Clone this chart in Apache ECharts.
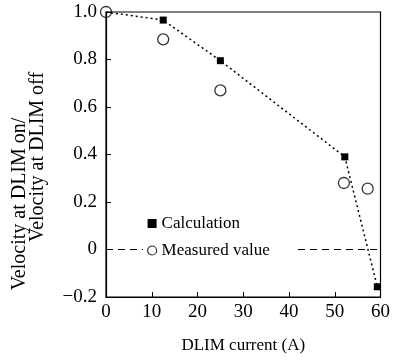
<!DOCTYPE html>
<html><head><meta charset="utf-8">
<script src="https://cdn.jsdelivr.net/npm/echarts@6/dist/echarts.min.js"></script>
<style>html,body{margin:0;padding:0;background:#fff}#c{width:393px;height:360px}</style>
</head><body><div id="c"></div>
<script>
var calcX = [0, 12.5, 25, 52.2, 59.3];
var calcY = [1.0, 0.966, 0.795, 0.39, -0.157];
var measX = [0, 12.5, 25, 52, 57.2];
var measY = [1.0, 0.885, 0.67, 0.28, 0.256];
var xTicks = [0, 10, 20, 30, 40, 50, 60];
var yTicks = [-0.2, 0, 0.2, 0.4, 0.6, 0.8, 1.0];
var yTickLabels = ['\u22120.2', '0', '0.2', '0.4', '0.6', '0.8', '1.0'];
var seriesNames = ['Calculation', 'Measured value'];
var xTitle = 'DLIM current (A)';
var yTitleLines = ['Velocity at DLIM on/', 'Velocity at DLIM off'];

var font = 'Liberation Serif';
var calcData = calcX.map(function (x, i) {
  var d = { value: [x, calcY[i]] };
  if (i === 0) d.symbolSize = 0;
  return d;
});
var measData = measX.map(function (x, i) { return [x, measY[i]]; });

var chart = echarts.init(document.getElementById('c'), null, { renderer: 'canvas' });
chart.setOption({
  backgroundColor: '#fff',
  animation: false,
  grid: { left: 106, right: 10, top: 12, bottom: 63, show: true, borderColor: '#000', borderWidth: 1.2, backgroundColor: 'transparent' },
  graphic: [
    { type: 'text', x: 20, y: 204, rotation: Math.PI / 2,
      style: { text: yTitleLines[0], font: '20px "Liberation Serif"', fill: '#000', textAlign: 'center', textVerticalAlign: 'middle' } },
    { type: 'text', x: 38, y: 157, rotation: Math.PI / 2,
      style: { text: yTitleLines[1], font: '20px "Liberation Serif"', fill: '#000', textAlign: 'center', textVerticalAlign: 'middle' } }
  ],
  legend: {
    orient: 'vertical', left: 143, top: 212, itemWidth: 9, itemHeight: 9, itemGap: 10, z: 10,
    backgroundColor: '#fff', padding: [3, 27, 3, 4],
    textStyle: { fontFamily: font, fontSize: 17, color: '#000' },
    data: [
      { name: seriesNames[0], icon: 'rect', itemStyle: { color: '#000' } },
      { name: seriesNames[1], icon: 'circle', itemStyle: { color: '#fff', borderColor: '#000', borderWidth: 1.2 } }
    ]
  },
  xAxis: {
    type: 'value', min: xTicks[0], max: xTicks[xTicks.length - 1], interval: 10,
    name: xTitle, nameLocation: 'middle', nameGap: 40,
    nameTextStyle: { fontFamily: font, fontSize: 17, color: '#000' },
    axisLine: { onZero: false, lineStyle: { color: '#000', width: 1.2 } },
    axisTick: { inside: true, length: 5, lineStyle: { color: '#000' } },
    axisLabel: { fontFamily: font, fontSize: 19, color: '#000', margin: 6 },
    splitLine: { show: false }
  },
  yAxis: {
    type: 'value', min: yTicks[0], max: yTicks[yTicks.length - 1], interval: 0.2,
    axisLine: { onZero: false, lineStyle: { color: '#000', width: 1.2 } },
    axisTick: { inside: true, length: 5, lineStyle: { color: '#000' } },
    axisLabel: {
      fontFamily: font, fontSize: 19, color: '#000', margin: 9,
      formatter: function (v) {
        for (var i = 0; i < yTicks.length; i++) if (Math.abs(v - yTicks[i]) < 1e-6) return yTickLabels[i];
        return '';
      }
    },
    splitLine: { show: false }
  },
  series: [
    {
      name: seriesNames[0], type: 'line', data: calcData, symbol: 'rect', symbolSize: 7,
      itemStyle: { color: '#000' },
      lineStyle: { color: '#000', width: 1.5, type: [2, 3] },
      z: 3,
      markLine: {
        silent: true, symbol: 'none', label: { show: false },
        lineStyle: { color: '#000', width: 1.2, type: [7, 5] },
        data: [{ yAxis: 0 }]
      }
    },
    {
      name: seriesNames[1], type: 'scatter', data: measData, symbol: 'circle', symbolSize: 11,
      itemStyle: { color: 'rgba(0,0,0,0)', borderColor: '#000', borderWidth: 1.3 },
      z: 4
    }
  ]
});
</script>
</body></html>
